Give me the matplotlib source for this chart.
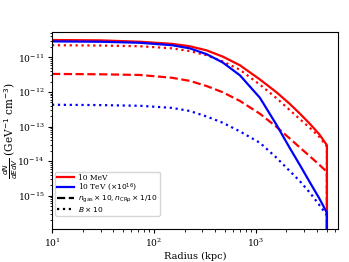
import numpy as np
import matplotlib
matplotlib.use("Agg")
import matplotlib.pyplot as plt
from matplotlib.lines import Line2D

plt.rcParams['font.family'] = 'DejaVu Serif'

# radius grid in kpc
radius = [10, 30, 73, 150, 225, 330, 475, 700, 1100, 1600, 2150, 2700, 3400, 4200, 5000, 5000]

# log10 of dN/dEdV, last point is the drop at the cluster edge
red_solid = [-10.50, -10.51, -10.55, -10.61, -10.68, -10.80, -10.98, -11.23, -11.64, -12.01,
             -12.34, -12.62, -12.92, -13.22, -13.54, -30]
blue_solid = [-10.54, -10.55, -10.58, -10.65, -10.74, -10.91, -11.15, -11.52, -12.17, -12.95,
              -13.61, -14.10, -14.61, -15.07, -15.49, -30]
red_dashed = [-11.48, -11.49, -11.51, -11.59, -11.68, -11.83, -12.01, -12.26, -12.63, -13.01,
              -13.34, -13.60, -13.86, -14.10, -14.31, -30]
red_dotted = [-10.65, -10.66, -10.68, -10.74, -10.82, -10.94, -11.12, -11.36, -11.79, -12.18,
              -12.52, -12.78, -13.04, -13.29, -13.58, -30]
blue_dotted = [-12.37, -12.38, -12.40, -12.46, -12.55, -12.71, -12.89, -13.14, -13.47, -13.90,
               -14.28, -14.57, -14.91, -15.26, -15.56, -30]

r = np.array(radius)
fig = plt.figure(figsize=(3.49, 2.62), dpi=100)
ax = fig.add_axes([0.149, 0.126, 0.819, 0.752])

ax.plot(r, 10**np.array(red_solid), color='red', lw=1.6)
ax.plot(r, 10**np.array(red_dashed), color='red', lw=1.6, ls='--')
ax.plot(r, 10**np.array(red_dotted), color='red', lw=1.6, ls=':')
ax.plot(r, 10**np.array(blue_solid), color='blue', lw=1.6)
ax.plot(r, 10**np.array(blue_dotted), color='blue', lw=1.6, ls=':')

ax.set_xscale('log')
ax.set_yscale('log')
ax.set_xlim(10, 6400)
ax.set_ylim(1.1e-16, 5.4e-11)
ax.tick_params(labelsize=6.6, pad=2.5)
ax.tick_params(which='major', length=3)
ax.tick_params(which='minor', length=1.8)
ax.set_xlabel('Radius (kpc)', fontsize=7, labelpad=2)
ax.set_ylabel(r'$\frac{dN}{dEdV}$ (GeV$^{-1}$ cm$^{-3}$)', fontsize=7.6)
ax.yaxis.set_label_coords(-0.112, 0.5)

handles = [Line2D([], [], color='red', lw=1.6),
           Line2D([], [], color='blue', lw=1.6),
           Line2D([], [], color='black', lw=1.6, ls='--'),
           Line2D([], [], color='black', lw=1.6, ls=':')]
labels = ['10 MeV', r'10 TeV ($\times 10^{16}$)',
          r'$n_{\rm gas}\times 10, n_{\rm CRp}\times 1/10$', r'$B\times 10$']
ax.legend(handles, labels, loc='lower left', bbox_to_anchor=(0.011, 0.066),
          borderaxespad=0, fontsize=5.4, handlelength=2.2, handletextpad=0.6,
          labelspacing=0.02, borderpad=0.25)

fig.savefig('out.png', dpi=100)
